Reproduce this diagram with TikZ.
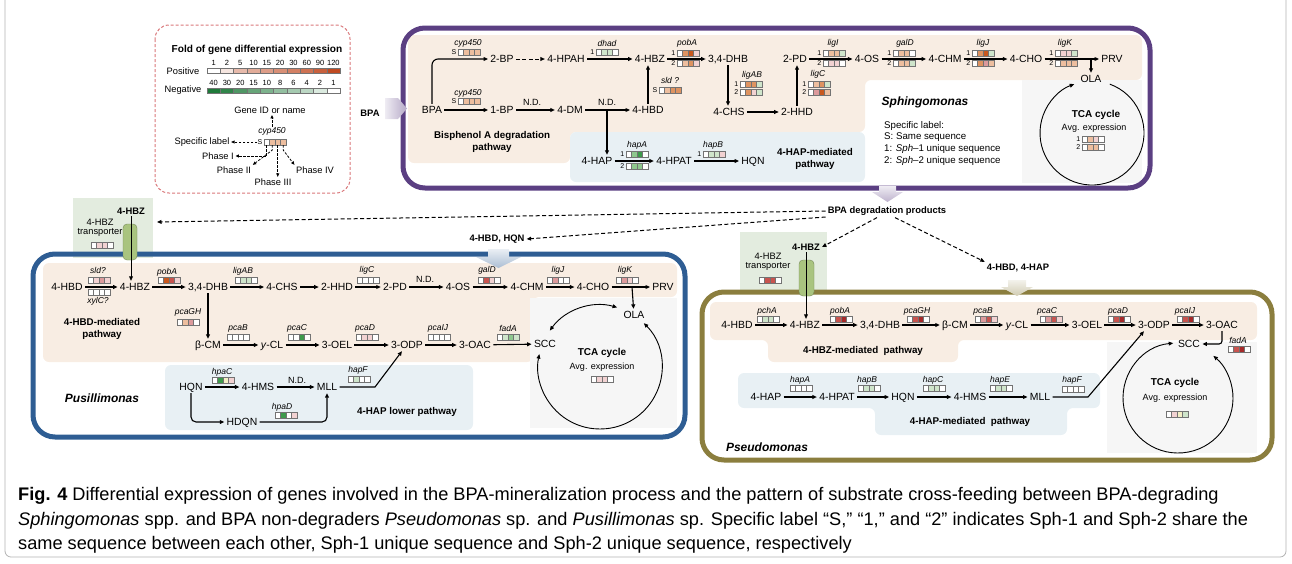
\documentclass[tikz,border=0pt]{standalone}
\usepackage{fontspec}
\setmainfont{Liberation Sans}
\usepackage{tikz}
\usetikzlibrary{arrows.meta}
\usetikzlibrary{positioning}

\definecolor{sphc}{HTML}{5B3F82}
\definecolor{pusc}{HTML}{2E5D93}
\definecolor{psec}{HTML}{8B7E3E}
\definecolor{beige}{HTML}{F8EDE3}
\definecolor{paleblue}{HTML}{E8F0F4}
\definecolor{palegreen}{HTML}{E3ECDF}
\definecolor{palegray}{HTML}{F6F6F6}
\definecolor{capsule}{HTML}{A9C47F}
\definecolor{posc}{HTML}{C04A22}
\definecolor{negc}{HTML}{1F7A3A}
\definecolor{or1}{HTML}{EDBE9F}
\definecolor{or2}{HTML}{DE9361}
\definecolor{or3}{HTML}{C9581E}
\definecolor{pk1}{HTML}{F2D2D2}
\definecolor{pk2}{HTML}{DC9A9C}
\definecolor{rd}{HTML}{C8544F}
\definecolor{drd}{HTML}{A62A2A}
\definecolor{gr1}{HTML}{CFE5CB}
\definecolor{gr2}{HTML}{8FC88E}
\definecolor{gr3}{HTML}{3E9A4C}
\definecolor{yl}{HTML}{F4EFC6}
\definecolor{legred}{HTML}{D9777A}

% gene box: name, left x, y, tag, four cell colours
\newcommand{\gbox}[8]{%
  \path ({#2-1.5},#3) node (#1t) [tag] {#4};
  \foreach \cc [count=\i] in {#5,#6,#7,#8}
    \path ({#2+(\i-0.5)*5.5},#3) node (#1\i) [cell,fill=\cc] {};
}

\begin{document}
\begin{tikzpicture}[x=1pt,y=-1pt,
    lbl/.style={font=\fontsize{10.4}{12}\selectfont, inner sep=2.2pt, text height=7.5pt, text depth=0pt},
    blbl/.style={font=\fontsize{9.4}{11}\selectfont\bfseries, inner sep=2pt},
    gene/.style={font=\fontsize{8.5}{10}\selectfont\itshape, inner sep=0pt},
    tag/.style={font=\fontsize{7}{8}\selectfont, inner sep=0pt, anchor=east},
    cell/.style={draw=black!55, line width=0.4pt, minimum width=5.5pt, minimum height=5.8pt, inner sep=0pt},
    nd/.style={font=\fontsize{9}{10}\selectfont, inner sep=0pt},
    title/.style={font=\fontsize{9.8}{11.8}\selectfont\bfseries, align=center, inner sep=0pt},
    species/.style={font=\fontsize{12}{14}\selectfont\bfseries\itshape, inner sep=0pt},
    small/.style={font=\fontsize{9.3}{10.5}\selectfont, inner sep=1.5pt, align=center},
    flow/.style={arrows=-{Triangle[length=4.5pt,width=3.8pt]}, line width=1.1pt},
    dflow/.style={flow, dash pattern=on 4pt off 2.5pt, line width=1pt},
    ldash/.style={arrows=-{Triangle[length=3.5pt,width=3pt]}, dash pattern=on 2.5pt off 1.5pt, line width=0.8pt},
    cyc/.style={arrows={Triangle[length=4.5pt,width=3.8pt]-Triangle[length=4.5pt,width=3.8pt]}, line width=0.9pt},
    frame/.style={line width=5pt, rounded corners=22pt},
    capline/.style={anchor=base west, inner sep=0pt, font=\fontsize{18.2}{20}\selectfont}]

% \draw [help lines] (0,0) grid[step=50] (1292,563);
\useasboundingbox (0,0) rectangle (1292,563);
\draw[black!30, line width=0.8pt, rounded corners=6pt] (5,0) -- (5,557) -- (1286,557) -- (1286,0);

% backgrounds
\fill[beige, rounded corners=6pt] (408,35) -- (1142,35) -- (1142,80) -- (865,80) -- (865,132) -- (570,132) -- (570,163) -- (408,163) -- cycle;
\fill[paleblue, rounded corners=6pt] (570,132) rectangle (865,182);
\fill[palegray] (1022,80) rectangle (1142,183);

\fill[palegreen] (73,198) rectangle (153,258);
\fill[beige, rounded corners=6pt] (43,263) -- (677,263) -- (677,297) -- (533,297) -- (533,362) -- (43,362) -- cycle;
\fill[paleblue, rounded corners=6pt] (165,365) rectangle (473,430);
\fill[palegray] (530,298) rectangle (677,428);

\fill[palegreen] (740,232) rectangle (827,292);
\fill[beige, rounded corners=6pt] (710,302) -- (1257,302) -- (1257,340) -- (958,340) -- (958,362) -- (768,362) -- (768,340) -- (710,340) -- cycle;
\fill[paleblue, rounded corners=6pt] (738,373) -- (1100,373) -- (1100,408) -- (1067,408) -- (1067,435) -- (875,435) -- (875,408) -- (738,408) -- cycle;
\fill[palegray] (1107,342) rectangle (1257,453);

% frames
\draw[legred, line width=1pt, dash pattern=on 3pt off 2pt, rounded corners=14pt] (155,25) rectangle (350,193);
\draw[sphc, frame] (403,28) rectangle (1150,188);
\draw[pusc, frame] (33,254) rectangle (685,437);
\draw[psec, frame] (702,292) rectangle (1272,460);

\shade[left color=sphc!10, right color=sphc!45] (385,98) -- (398,98) -- (407,108.5) -- (398,119) -- (385,119) -- cycle;
\shade[top color=sphc!10, bottom color=sphc!40] (879,186) -- (896,186) -- (896,192) -- (903,192) -- (887.5,202) -- (872,192) -- (879,192) -- cycle;
\shade[top color=pusc!10, bottom color=pusc!40] (488,249) -- (509,249) -- (509,257) -- (521,257) -- (498.5,268) -- (476,257) -- (488,257) -- cycle;
\shade[top color=psec!10, bottom color=psec!40] (1008,280) -- (1026,280) -- (1026,287) -- (1033,287) -- (1017,296) -- (1001,287) -- (1008,287) -- cycle;

% legend
\path (257,50) node (ltitle) [font=\fontsize{10.1}{12}\selectfont\bfseries] {Fold of gene differential expression}
      (183,71) node (lpos) [small] {Positive}
      (183,90) node (lneg) [small] {Negative}
      (270,110) node (lgene) [small] {Gene ID or name}
      (272,131) node (lcyp) [gene] {cyp450}
      (202,142) node (lspec) [small] {Specific label}
      (218,156) node (lp1) [small] {Phase I}
      (234,170) node (lp2) [small] {Phase II}
      (273,182) node (lp3) [small] {Phase III}
      (315,170) node (lp4) [small] {Phase IV};
\foreach \v/\pc [count=\i] in {1/0,2/14,5/38,10/46,15/54,20/62,30/70,60/78,90/88,120/100}
  \path ({207+(\i-0.5)*13.3},70.5) node (lpc\i) [cell, minimum width=13.3pt, minimum height=5pt, fill=posc!\pc!white] {}
        ({207+(\i-0.5)*13.3},63) node [font=\fontsize{7.5}{8}\selectfont] {\v};
\foreach \v/\pc [count=\i] in {40/100,30/92,20/78,15/68,10/58,8/48,6/40,4/30,2/16,1/0}
  \path ({207+(\i-0.5)*13.3},90.5) node (lnc\i) [cell, minimum width=13.3pt, minimum height=5pt, fill=negc!\pc!white] {}
        ({207+(\i-0.5)*13.3},83) node [font=\fontsize{7.5}{8}\selectfont] {\v};
\gbox{lc}{264}{142}{S}{white}{or1}{or1}{or1}
\draw[ldash] (lcyp.north) -- (lcyp.north |- lgene.south);
\draw[ldash] (lct.west) -- (lspec.east);
\draw[ldash] (lc1.south) |- (lp1.east);
\draw[ldash] (lc2.south) -- ++(0,5) -- (lp2.north east);
\draw[ldash] (lc3.south) -- (lc3.south |- lp3.north);
\draw[ldash] (lc4.south) -- ++(0,5) -- (lp4.north west);

% Sphingomonas
\path (370,113) node (bpa) [blbl] {BPA}
      (432,110) node (sbpa) [lbl] {BPA}
      (502,59) node (s2bp) [lbl] {2-BP}
      (566,59) node (s4hpah) [lbl] {4-HPAH}
      (650,59) node (s4hbz) [lbl] {4-HBZ}
      (728,59) node (s34dhb) [lbl] {3,4-DHB}
      (795,59) node (s2pd) [lbl] {2-PD}
      (867,59) node (s4os) [lbl] {4-OS}
      (945,59) node (s4chm) [lbl] {4-CHM}
      (1026,59) node (s4cho) [lbl] {4-CHO}
      (1112,59) node (sprv) [lbl] {PRV}
      (1091,79) node (sola) [lbl] {OLA}
      (502,110) node (s1bp) [lbl] {1-BP}
      (570,110) node (s4dm) [lbl] {4-DM}
      (648,110) node (s4hbd) [lbl] {4-HBD}
      (729,112) node (s4chs) [lbl] {4-CHS}
      (797,112) node (s2hhd) [lbl] {2-HHD}
      (597,161) node (s4hap) [lbl] {4-HAP}
      (674,161) node (s4hpat) [lbl] {4-HPAT}
      (753,161) node (shqn) [lbl] {HQN};
\path (492,142) node (sbisp) [title] {Bisphenol A degradation\\pathway}
      (815,159) node (shapt) [title] {4-HAP-mediated\\pathway}
      (925,102) node (ssp) [species] {Sphingomonas}
      (884,121) node (sinfo) [anchor=north west, inner sep=0pt, align=left, font=\fontsize{9.7}{11.7}\selectfont]
        {Specific label:\\S: Same sequence\\1: \textit{Sph}–1 unique sequence\\2: \textit{Sph}–2 unique sequence}
      (1096,115) node (stca) [font=\fontsize{10}{12}\selectfont\bfseries] {TCA cycle}
      (1094,128) node (savg) [font=\fontsize{9}{10}\selectfont] {Avg. expression};
\path (468,43) node (gcypa) [gene] {cyp450}
      (468,93) node (gcypb) [gene] {cyp450}
      (607,43) node (gdhad) [gene] {dhad}
      (687,43) node (gpoba) [gene] {pobA}
      (670,80) node (gsld) [gene] {sld ?}
      (637,145) node (ghapa) [gene] {hapA}
      (713,145) node (ghapb) [gene] {hapB}
      (752,75) node (gligab) [gene] {ligAB}
      (818,74) node (gligc) [gene] {ligC}
      (833,43) node (gligi) [gene] {ligI}
      (905,43) node (ggald) [gene] {galD}
      (983,43) node (gligj) [gene] {ligJ}
      (1065,43) node (gligk) [gene] {ligK}
      (532,102) node (snda) [nd] {N.D.}
      (607,102) node (sndb) [nd] {N.D.};
\gbox{cypa}{458}{52}{S}{white}{or1}{or1}{or1}
\gbox{cypb}{458}{101}{S}{white}{or1}{or1}{or1}
\gbox{dhad}{596}{52}{1}{white}{gr1}{gr1}{white}
\gbox{pobaa}{677}{53}{1}{white}{or2}{or3}{pk1}
\gbox{pobab}{677}{63}{2}{white}{or1}{or2}{pk1}
\gbox{sld}{659}{90}{S}{white}{or1}{or2}{or2}
\gbox{hapaa}{626}{154}{1}{white}{gr2}{gr3}{white}
\gbox{hapab}{626}{166}{2}{white}{gr2}{gr2}{white}
\gbox{hapb}{703}{154}{1}{white}{gr1}{gr1}{pk1}
\gbox{ligaba}{740}{84}{1}{white}{or2}{or2}{gr1}
\gbox{ligabb}{740}{92}{2}{white}{or2}{pk1}{gr1}
\gbox{ligca}{808}{84}{1}{white}{or1}{or2}{gr1}
\gbox{ligcb}{808}{92}{2}{white}{pk2}{or3}{or1}
\gbox{ligia}{823}{53}{1}{white}{or1}{or1}{gr1}
\gbox{ligib}{823}{63}{2}{white}{pk1}{pk1}{white}
\gbox{galda}{893}{53}{1}{white}{or1}{or1}{white}
\gbox{galdb}{893}{63}{2}{white}{or1}{or1}{gr1}
\gbox{ligja}{972}{53}{1}{white}{or2}{or3}{gr1}
\gbox{ligjb}{972}{63}{2}{white}{or2}{pk2}{or1}
\gbox{ligka}{1055}{53}{1}{white}{pk1}{pk1}{gr1}
\gbox{ligkb}{1055}{63}{2}{white}{or1}{or1}{or1}
\gbox{stcaa}{1082}{139}{1}{white}{or1}{pk1}{white}
\gbox{stcab}{1082}{147}{2}{white}{or1}{or1}{white}

\coordinate (sfork) at (607,110);
\coordinate (sfork2) at (1091,59);
\draw[flow, rounded corners=6pt] (sbpa.north) |- (s2bp.west);
\draw[dflow] (node cs:name=s2bp) -- (node cs:name=s4hpah);
\draw[flow] (node cs:name=s4hpah) -- (node cs:name=s4hbz);
\draw[flow] (node cs:name=s4hbz) -- (node cs:name=s34dhb);
\draw[flow] (node cs:name=sbpa) -- (node cs:name=s1bp);
\draw[flow] (node cs:name=s1bp) -- (node cs:name=s4dm);
\draw[flow] (node cs:name=s4dm) -- (node cs:name=s4hbd);
\draw[flow] (sfork) -- (sfork |- s4hap.north);
\draw[flow] (s4hbd.north) -- (s4hbd.north |- s4hbz.south);
\draw[flow] (s34dhb.south) -- (s34dhb.south |- s4chs.north);
\draw[flow] (node cs:name=s4chs) -- (node cs:name=s2hhd);
\draw[flow] (s2hhd.north) -- (s2hhd.north |- s2pd.south);
\draw[flow] (node cs:name=s2pd) -- (node cs:name=s4os);
\draw[flow] (node cs:name=s4os) -- (node cs:name=s4chm);
\draw[flow] (node cs:name=s4chm) -- (node cs:name=s4cho);
\draw[flow] (node cs:name=s4cho) -- (node cs:name=sprv);
\draw[flow] (sfork2) -- (sola);
\draw[flow] (node cs:name=s4hap) -- (node cs:name=s4hpat);
\draw[flow] (node cs:name=s4hpat) -- (node cs:name=shqn);
\draw[flow, line width=0.9pt] (1092,133) ++(-70:52) arc[start angle=-70, end angle=250, radius=52];

% middle
\path (887,211) node (prod) [blbl] {BPA degradation products}
      (497,239) node (mhqn) [blbl] {4-HBD, HQN}
      (1018,268) node (mhap) [blbl] {4-HBD, 4-HAP}
      (131,211) node (utrz) [blbl] {4-HBZ}
      (100,228) node (utrt) [small] {4-HBZ\\[-1pt]transporter}
      (806,247) node (ptrz) [blbl] {4-HBZ}
      (768,262) node (ptrt) [small] {4-HBZ\\[-1pt]transporter};
\coordinate (utrin) at (157,222);
\draw[dflow] (prod.west) -- (utrin);
\draw[dflow] ([yshift=-6pt]prod.west) -- (mhqn.east);
\draw[dflow] ([xshift=-10pt]prod.south) -- (ptrz.east);
\draw[dflow] ([xshift=8pt]prod.south) -- (mhap.north west);
\gbox{utr}{91}{245}{}{white}{pk1}{pk1}{white}
\gbox{ptr}{759}{280}{}{white}{rd}{rd}{white}
\draw[capsule!70!black, fill=capsule, rounded corners=4pt] (123,224) rectangle (137,260);
\draw[capsule!70!black, fill=capsule, rounded corners=4pt] (799,260) rectangle (814,296);

% Pusillimonas
\path (67,287) node (u4hbd) [lbl] {4-HBD}
      (135,287) node (u4hbz) [lbl] {4-HBZ}
      (208,287) node (u34dhb) [lbl] {3,4-DHB}
      (282,287) node (u4chs) [lbl] {4-CHS}
      (337,287) node (u2hhd) [lbl] {2-HHD}
      (395,287) node (u2pd) [lbl] {2-PD}
      (458,287) node (u4os) [lbl] {4-OS}
      (527,287) node (u4chm) [lbl] {4-CHM}
      (593,287) node (u4cho) [lbl] {4-CHO}
      (663,287) node (uprv) [lbl] {PRV}
      (634,315) node (uola) [lbl] {OLA}
      (208,345) node (ubcm) [lbl] {β-CM}
      (272,345) node (ugcl) [lbl] {\textit{y}-CL}
      (337,345) node (u3oel) [lbl] {3-OEL}
      (407,345) node (u3odp) [lbl] {3-ODP}
      (475,345) node (u3oac) [lbl] {3-OAC}
      (545,344) node (uscc) [lbl] {SCC}
      (191,387) node (uhqn) [lbl] {HQN}
      (258,387) node (u4hms) [lbl] {4-HMS}
      (327,387) node (umll) [lbl] {MLL}
      (242,422) node (uhdqn) [lbl] {HDQN};
\path (102,329) node (uhbdt) [title] {4-HBD-mediated\\pathway}
      (102,398) node (usp) [species] {Pusillimonas}
      (407,412) node (uhapt) [title] {4-HAP lower pathway}
      (602,353) node (utca) [font=\fontsize{10}{12}\selectfont\bfseries] {TCA cycle}
      (602,367) node (uavg) [font=\fontsize{9}{10}\selectfont] {Avg. expression};
\path (98,270) node (usldg) [gene] {sld?}
      (98,301) node (uxylg) [gene] {xylC?}
      (167,272) node (upobg) [gene] {pobA}
      (243,271) node (uligabg) [gene] {ligAB}
      (188,312) node (upcaghg) [gene] {pcaGH}
      (238,328) node (upcabg) [gene] {pcaB}
      (297,328) node (upcacg) [gene] {pcaC}
      (367,270) node (uligcg) [gene] {ligC}
      (487,270) node (ugaldg) [gene] {galD}
      (558,270) node (uligjg) [gene] {ligJ}
      (625,270) node (uligkg) [gene] {ligK}
      (365,328) node (upcadg) [gene] {pcaD}
      (438,328) node (upcaijg) [gene] {pcaIJ}
      (508,328) node (ufadag) [gene] {fadA}
      (222,372) node (uhpacg) [gene] {hpaC}
      (282,407) node (uhpadg) [gene] {hpaD}
      (358,370) node (uhapfg) [gene] {hapF}
      (425,279) node (unda) [nd] {N.D.}
      (297,380) node (undb) [nd] {N.D.};
\gbox{usld}{88}{280}{}{white}{pk1}{pk2}{pk1}
\gbox{uxyl}{88}{292}{}{white}{white}{white}{white}
\gbox{upoba}{158}{280}{}{white}{or3}{rd}{pk1}
\gbox{uligab}{235}{280}{}{white}{gr1}{gr1}{white}
\gbox{upcagh}{177}{322}{}{white}{or1}{pk2}{white}
\gbox{upcab}{227}{337}{}{white}{white}{white}{white}
\gbox{upcac}{288}{337}{}{white}{white}{gr3}{white}
\gbox{uligc}{357}{280}{}{white}{white}{white}{white}
\gbox{ugald}{478}{280}{}{white}{rd}{pk1}{white}
\gbox{uligj}{547}{280}{}{white}{pk2}{white}{white}
\gbox{uligk}{616}{280}{}{white}{pk2}{pk1}{white}
\gbox{upcad}{356}{337}{}{white}{pk1}{pk1}{white}
\gbox{upcaij}{428}{337}{}{white}{white}{white}{white}
\gbox{ufada}{497}{337}{}{white}{gr1}{gr2}{gr1}
\gbox{uhpac}{212}{380}{}{white}{gr3}{yl}{pk1}
\gbox{uhpad}{275}{415}{}{white}{gr3}{white}{pk1}
\gbox{uhapf}{348}{379}{}{white}{gr1}{white}{white}
\gbox{utcab}{591}{379}{}{white}{pk1}{pk1}{white}

\coordinate (ufork) at (632,287);
\coordinate (ubend) at (375,387);
\draw[flow, line width=0.8pt] (utrz.south) -- (utrz.south |- u4hbz.north);
\draw[flow] (node cs:name=u4hbd) -- (node cs:name=u4hbz);
\draw[flow] (node cs:name=u4hbz) -- (node cs:name=u34dhb);
\draw[flow] (node cs:name=u34dhb) -- (node cs:name=u4chs);
\draw[flow] (node cs:name=u4chs) -- (node cs:name=u2hhd);
\draw[flow] (node cs:name=u2hhd) -- (node cs:name=u2pd);
\draw[flow] (node cs:name=u2pd) -- (node cs:name=u4os);
\draw[flow] (node cs:name=u4os) -- (node cs:name=u4chm);
\draw[flow] (node cs:name=u4chm) -- (node cs:name=u4cho);
\draw[flow] (node cs:name=u4cho) -- (node cs:name=uprv);
\draw[flow] (ufork) -- (uola);
\draw[flow] (u34dhb.south) -- (u34dhb.south |- ubcm.north);
\draw[flow] (node cs:name=ubcm) -- (node cs:name=ugcl);
\draw[flow] (node cs:name=ugcl) -- (node cs:name=u3oel);
\draw[flow] (node cs:name=u3oel) -- (node cs:name=u3odp);
\draw[flow] (node cs:name=u3odp) -- (node cs:name=u3oac);
\draw[flow] (node cs:name=u3oac) -- (node cs:name=uscc);
\draw[flow] (node cs:name=uhqn) -- (node cs:name=u4hms);
\draw[flow] (node cs:name=u4hms) -- (node cs:name=umll);
\draw[flow, rounded corners=5pt] (uhqn.south) |- (uhdqn.west);
\draw[flow, rounded corners=5pt] (uhdqn.east) -| (umll.south);
\draw[flow] (umll) -- (ubend) -- ([xshift=-5pt]u3odp.south);
\draw[cyc] (600,367) ++(-74:62) arc[start angle=-74, end angle=-144, radius=62];
\draw[cyc] (600,367) ++(-45:62) arc[start angle=-45, end angle=192, radius=62];

% Pseudomonas
\path (737,325) node (p4hbd) [lbl] {4-HBD}
      (805,325) node (p4hbz) [lbl] {4-HBZ}
      (880,325) node (p34dhb) [lbl] {3,4-DHB}
      (955,325) node (pbcm) [lbl] {β-CM}
      (1017,325) node (pgcl) [lbl] {\textit{y}-CL}
      (1087,325) node (p3oel) [lbl] {3-OEL}
      (1154,325) node (p3odp) [lbl] {3-ODP}
      (1222,325) node (p3oac) [lbl] {3-OAC}
      (1189,344) node (pscc) [lbl] {SCC}
      (766,397) node (p4hap) [lbl] {4-HAP}
      (837,397) node (p4hpat) [lbl] {4-HPAT}
      (903,397) node (phqn) [lbl] {HQN}
      (970,397) node (p4hms) [lbl] {4-HMS}
      (1040,397) node (pmll) [lbl] {MLL};
\path (863,351) node (phbzt) [title] {4-HBZ-mediated\ \ pathway}
      (970,422) node (phapt) [title] {4-HAP-mediated\ \ pathway}
      (767,447) node (psp) [species] {Pseudomonas}
      (1175,383) node (ptcat) [font=\fontsize{10}{12}\selectfont\bfseries] {TCA cycle}
      (1175,398) node (pavg) [font=\fontsize{9}{10}\selectfont] {Avg. expression};
\path (767,311) node (ppchag) [gene] {pchA}
      (840,311) node (ppobag) [gene] {pobA}
      (917,311) node (ppcaghg) [gene] {pcaGH}
      (983,311) node (ppcabg) [gene] {pcaB}
      (1047,311) node (ppcacg) [gene] {pcaC}
      (1118,311) node (ppcadg) [gene] {pcaD}
      (1185,311) node (ppcaijg) [gene] {pcaIJ}
      (1238,340) node (pfadag) [gene] {fadA}
      (800,380) node (phapag) [gene] {hapA}
      (867,380) node (phapbg) [gene] {hapB}
      (933,380) node (phapcg) [gene] {hapC}
      (1000,380) node (phapeg) [gene] {hapE}
      (1072,380) node (phapfg) [gene] {hapF};
\gbox{ppcha}{757}{319}{}{white}{gr1}{gr1}{white}
\gbox{ppoba}{830}{319}{}{white}{rd}{drd}{white}
\gbox{ppcagh}{907}{319}{}{white}{rd}{drd}{white}
\gbox{ppcab}{975}{319}{}{white}{pk2}{rd}{pk1}
\gbox{ppcac}{1040}{319}{}{white}{pk2}{rd}{pk1}
\gbox{ppcad}{1108}{319}{}{white}{rd}{drd}{white}
\gbox{ppcaij}{1177}{319}{}{white}{rd}{drd}{white}
\gbox{pfada}{1228}{349}{}{white}{rd}{drd}{white}
\gbox{phapa}{790}{388}{}{white}{white}{white}{white}
\gbox{phapb}{858}{388}{}{white}{gr1}{gr1}{white}
\gbox{phapc}{923}{388}{}{white}{gr1}{gr1}{white}
\gbox{phape}{990}{388}{}{white}{gr1}{gr1}{white}
\gbox{phapf}{1062}{389}{}{white}{white}{white}{white}
\gbox{ptcab}{1166}{414}{}{white}{pk1}{yl}{gr1}

\coordinate (pbend) at (1088,397);
\draw[flow, line width=0.8pt] (ptrz.south) -- (ptrz.south |- p4hbz.north);
\draw[flow] (node cs:name=p4hbd) -- (node cs:name=p4hbz);
\draw[flow] (node cs:name=p4hbz) -- (node cs:name=p34dhb);
\draw[flow] (node cs:name=p34dhb) -- (node cs:name=pbcm);
\draw[flow] (node cs:name=pbcm) -- (node cs:name=pgcl);
\draw[flow] (node cs:name=pgcl) -- (node cs:name=p3oel);
\draw[flow] (node cs:name=p3oel) -- (node cs:name=p3odp);
\draw[flow, line width=1.6pt] (node cs:name=p3odp) -- (node cs:name=p3oac);
\draw[flow, rounded corners=3pt] (p3oac.south) |- (pscc.east);
\draw[flow] (node cs:name=p4hap) -- (node cs:name=p4hpat);
\draw[flow] (node cs:name=p4hpat) -- (node cs:name=phqn);
\draw[flow] (node cs:name=phqn) -- (node cs:name=p4hms);
\draw[flow] (node cs:name=p4hms) -- (node cs:name=pmll);
\draw[flow] (pmll) -- (pbend) -- ([xshift=-10pt]p3odp.south);
\draw[cyc] (1178,398) ++(-95:55) arc[start angle=-95, end angle=-410, radius=55];

% caption
\path (18,500) node (cap1) [capline] {\textbf{Fig. 4} Differential expression of genes involved in the BPA-mineralization process and the pattern of substrate cross-feeding between BPA-degrading}
      (18,525) node (cap2) [capline] {\textit{Sphingomonas} spp. and BPA non-degraders \textit{Pseudomonas} sp. and \textit{Pusillimonas} sp. Specific label “S,” “1,” and “2” indicates Sph-1 and Sph-2 share the}
      (18,549) node (cap3) [capline] {same sequence between each other, Sph-1 unique sequence and Sph-2 unique sequence, respectively};

\end{tikzpicture}
\end{document}
